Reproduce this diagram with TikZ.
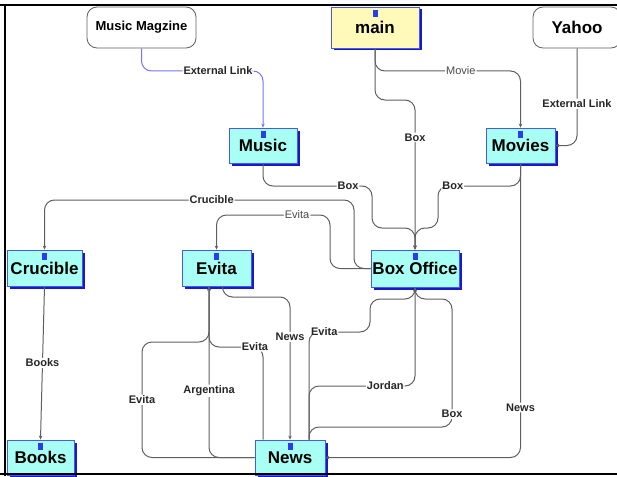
\documentclass[tikz,border=0pt]{standalone}
\usepackage{fontspec}
\setmainfont{Liberation Sans}
\usepackage{tikz}
\usetikzlibrary{arrows.meta, shadows}
\definecolor{topiccyan}{RGB}{168,255,243}
\definecolor{mainyellow}{RGB}{255,250,185}
\definecolor{topicborder}{RGB}{70,90,235}
\definecolor{shadowblue}{RGB}{25,25,200}
\definecolor{iconblue}{RGB}{40,60,240}
\definecolor{linkgray}{RGB}{95,95,95}
\definecolor{extblue}{RGB}{120,115,255}

\tikzset{
    topic/.style = {rectangle, draw = topicborder, fill = topiccyan, line width = 0.8pt,
        minimum height = 35pt, inner sep = 1pt, font = \fontsize{17}{20}\selectfont\bfseries,
        drop shadow = {shadow xshift = 2.5pt, shadow yshift = -2.5pt, fill = shadowblue, opacity = 1},
        path picture = {\fill [iconblue] ([xshift = -2.5pt, yshift = -3pt]path picture bounding box.north) rectangle ++(5pt, -7pt);}},
    site/.style = {rectangle, rounded corners = 10pt, draw = linkgray, fill = white, line width = 0.8pt, minimum height = 41pt},
    link/.style = {draw = linkgray, line width = 1pt, rounded corners = 10pt, ->},
    elabel/.style = {fill = white, inner sep = 1pt, font = \fontsize{11}{13}\selectfont\bfseries, text = black!85},
    elight/.style = {fill = white, inner sep = 1pt, font = \fontsize{11}{13}\selectfont, text = black!70}
}

\begin{document}
\begin{tikzpicture}[x = 1pt, y = -1pt, >={Stealth[length = 4pt, width = 3.5pt]}]
    \useasboundingbox (0, 0) rectangle (617, 476);

    \node (mmag) [site, minimum width = 109pt, font = \fontsize{13}{15}\selectfont\bfseries] at (141.5, 27.5) {Music Magzine};
    \node (main) [topic, fill = mainyellow, minimum width = 88pt, minimum height = 41pt] at (375, 27.5) {main};
    \node (yahoo) [site, minimum width = 88pt, font = \fontsize{17}{20}\selectfont\bfseries] at (577, 27.5) {Yahoo};

    \node (music) [topic, minimum width = 68pt] at (263, 145.5) {Music};
    \node (movies) [topic, minimum width = 69pt] at (520.5, 145.5) {Movies};
    \node (crucible) [topic, minimum width = 75pt, minimum height = 36pt] at (44.5, 268) {Crucible};
    \node (evita) [topic, minimum width = 69pt, minimum height = 36pt] at (216.5, 268) {Evita};
    \node (boxoffice) [topic, minimum width = 88pt, minimum height = 37pt] at (415, 268.5) {Box Office};
    \node (books) [topic, minimum width = 67pt] at (40.5, 457.5) {Books};
    \node (news) [topic, minimum width = 70pt] at (290, 457.5) {News};

    \draw [link, draw = extblue] (mmag.south) -- (141.5, 71) -- node [elabel, pos = 0.63] {External Link} (263, 71) -- (music.north);
    \draw [link] (main.south) -- (375, 71) -- node [elight, pos = 0.59] {Movie} (520.5, 71) -- (movies.north);
    \draw [link] (main.south) -- (375, 100) -- (415, 100) -- node [elabel, pos = 0.25] {Box} (boxoffice.north);
    \draw [link] (yahoo.south) -- node [elabel, pos = 0.57] {External Link} (577, 145.5) -- (movies.east);

    \draw [link] (music.south) -- (263, 186) -- node [elabel, pos = 0.78] {Box} (372, 186) -- (372, 228) -- (415, 228) -- (boxoffice.north);
    \draw [link] (movies.south) -- (520.5, 186) -- node [elabel, pos = 0.82] {Box} (438, 186) -- (438, 228) -- (415, 228) -- (boxoffice.north);

    \draw [link] (boxoffice.west) -- (354, 268.5) -- (354, 200) -- node [elabel, pos = 0.46] {Crucible} (44.5, 200) -- (crucible.north);
    \draw [link] (boxoffice.west) -- (330, 268.5) -- (330, 215) -- node [elight, pos = 0.29] {Evita} (216.5, 215) -- (evita.north);
    \draw [link] (crucible.south) -- node [elabel] {Books} (books.north);

    \draw [link] ([xshift = 6pt]evita.south) -- (222.5, 297) -- (290, 297) -- node [elabel, pos = 0.28] {News} (news.north);
    \draw [link] (news.west) -- (142, 457.5) -- node [elabel] {Evita} (142, 342) -- (209, 342) -- ([xshift = -7.5pt]evita.south);
    \draw [link] (news.west) -- (209, 457.5) -- node [elabel, pos = 0.39] {Argentina} ([xshift = -7.5pt]evita.south);
    \draw [link] ([xshift = -27pt]news.north) -- (263, 347) -- node [elabel, pos = 0.15] {Evita} (209, 347) -- ([xshift = -7.5pt]evita.south);

    \draw [link] ([xshift = 19pt]news.north) -- (309, 332) -- node [elabel, pos = 0.25] {Evita} (370, 332) -- (370, 299) -- (415, 299) -- (boxoffice.south);
    \draw [link] ([xshift = 19pt]news.north) -- (309, 386) -- node [elabel, pos = 0.72] {Jordan} (415, 386) -- (boxoffice.south);
    \draw [link] ([xshift = 19pt]news.north) -- (309, 427) -- (452, 427) -- node [elabel, pos = 0.1] {Box} (452, 299) -- (415, 299) -- (boxoffice.south);
    \draw [link] (movies.south) -- node [elabel, pos = 0.83] {News} (520.5, 457.5) -- (news.east);

    \draw [line width = 2.5pt] (5, 4) -- (5, 476);
    \draw [line width = 2pt] (0, 5) -- (617, 5);
    \draw [line width = 2pt] (0, 474) -- (617, 474);
\end{tikzpicture}
\end{document}
